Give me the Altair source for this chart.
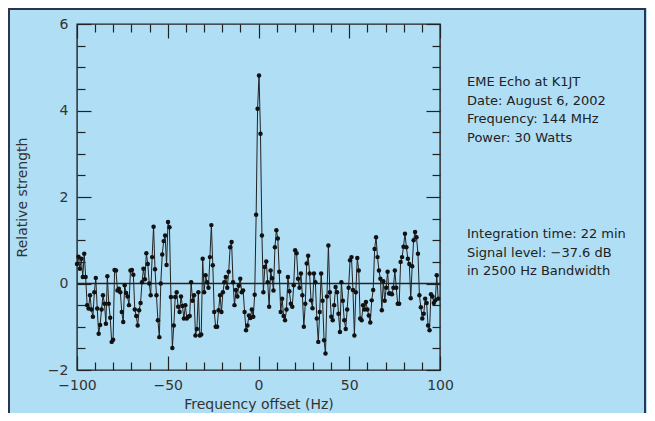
import altair as alt
import pandas as pd

# ---- data ----
freq_start = -100.0   # Hz, first spectral bin
freq_step = 0.796     # Hz between bins

strength_a = [  # -100 .. -61 Hz
    0.45, 0.62, 0.34, 0.57, 0.15, 0.69, 0.15, -0.50, -0.58, -0.27,
    -0.60, -0.77, -0.20, 0.13, -0.58, -1.16, -0.96, -0.60, -0.27, -0.47,
    -0.93, 0.17, -0.47, -0.79, -1.35, -1.30, 0.31, 0.30, -0.16, -0.12,
    -0.20, -0.66, -0.89, -0.04, -0.22, -0.30, -0.50, 0.30, 0.31, 0.20,
    -0.60, -0.75, -0.97, -0.62, -0.45, 0.03, 0.34, 0.10, 0.70, 0.45,
]
strength_b = [  # -60 .. -1 Hz
    0.00, -0.27, 0.61, 1.31, 0.33, -0.27, -0.85, -1.24, 0.00, 0.67,
    0.98, 1.11, 0.43, 1.42, 1.30, -0.31, -1.49, -0.97, -0.31, -0.20,
    -0.54, -0.66, -0.30, -0.52, -0.81, -0.50, -0.81, -0.77, -0.75, 0.03,
    -0.40, -0.27, -1.20, -1.05, -0.20, -1.20, -1.18, 0.57, -0.20, 0.19,
    0.03, -0.10, 0.61, 1.35, 0.42, -0.66, -1.00, -1.00, -0.62, -0.27,
    -0.66, -0.20, 0.03, 0.15, -0.10, 0.27, 0.84, 0.96, 0.03, -0.50,
    -0.15, -0.30, -0.05, 0.11, -0.20, -0.16, -0.66, -1.08, -0.97, -0.74,
    -0.80, -0.60, -0.77, -0.26, 1.59,
]
strength_c = [  # 0 .. 100 Hz
    4.04, 4.81, 3.46, 1.11, -0.20, 0.38, 0.51, 0.03, -0.54, 0.30,
    0.12, -0.16, 0.84, 1.23, 1.04, 0.27, -0.66, -0.35, -0.75, -0.85,
    -0.60, 0.15, -0.18, -0.47, -0.54, -0.04, 0.77, 0.70, 0.11, -0.10,
    0.23, -0.27, -1.00, -0.47, 0.46, 0.64, 0.23, -0.39, -0.57, 0.23,
    0.03, -0.81, -1.35, -0.66, 0.23, -0.40, -1.31, -1.62, -0.30, 0.88,
    -0.20, -0.77, -0.85, -0.50, -0.08, -0.20, -0.70, -1.12, 0.03, -0.40,
    -0.85, -1.05, -0.60, -0.10, 0.54, 0.61, -0.15, -1.20, -0.20, 0.59,
    0.30, -0.81, -0.85, -0.50, -0.60, -0.43, -0.60, -0.74, -0.90, -0.39,
    -0.15, 0.80, 1.07, 0.61, 0.30, 0.11, -0.62, 0.05, -0.40, -0.10,
    0.27, -0.23, -0.23, -0.25, -0.10, 0.30, -0.10, -0.47, -0.47, 0.50,
    0.61, 0.85, 1.15, 0.84, 0.57, 0.45, -0.34, 0.40, 1.00, 1.19,
    1.07, 0.69, -0.27, -0.55, -0.81, -0.70, -0.35, -0.45, -0.97, -1.08,
    -0.25, -0.30, -0.45, -0.39, 0.19, -0.35,
]

x_major = [-100, -50, 0, 50, 100]
x_minor = [-90, -80, -70, -60, -40, -30, -20, -10, 10, 20, 30, 40, 60, 70, 80, 90]
y_major = [-2, 0, 2, 4, 6]
y_minor = [-1.5, -1, -0.5, 0.5, 1, 1.5, 2.5, 3, 3.5, 4.5, 5, 5.5]

info_block_1 = ["EME Echo at K1JT", "Date: August 6, 2002",
                "Frequency: 144 MHz", "Power: 30 Watts"]
info_block_2 = ["Integration time: 22 min", "Signal level: \u221237.6 dB",
                "in 2500 Hz Bandwidth"]

# ---- build table ----
strength = strength_a + strength_b + strength_c
freq = [round(freq_start + freq_step * i, 3) for i in range(len(strength))]
df = pd.DataFrame({"freq": freq, "strength": strength})

FONT = "DejaVu Sans"
INK = "#222222"
TXT = "#333333"
BG = "#b0def4"

xs = alt.Scale(domain=[-100, 100], nice=False, zero=False)
ys = alt.Scale(domain=[-2, 6], nice=False, zero=False)


def ax(orient, values, size, labels=False, title=None, **kw):
    return alt.Axis(orient=orient, values=values, tickSize=size, offset=-size,
                    domain=False, grid=False, labels=labels, title=title,
                    labelFlush=False, labelOverlap=False,
                    tickColor=INK, tickWidth=1.2, labelFont=FONT,
                    labelFontSize=14, labelColor=TXT, titleFont=FONT,
                    titleFontWeight="normal", titleColor=TXT, **kw)


line = alt.Chart(df).mark_line(
    color=INK, strokeWidth=1,
    point=alt.OverlayMarkDef(filled=True, color="#111111", size=20, opacity=1),
).encode(
    x=alt.X("freq:Q", scale=xs,
            axis=ax("bottom", x_major, 14, labels=True,
                    title="Frequency offset (Hz)", labelPadding=8,
                    titlePadding=5, titleFontSize=14)),
    y=alt.Y("strength:Q", scale=ys,
            axis=ax("left", y_major, 14, labels=True,
                    title="Relative strength", labelPadding=9,
                    titlePadding=18, titleFontSize=14)),
)


def ghost(xa, ya):
    return alt.Chart(df).mark_point(opacity=0, size=1).encode(
        x=alt.X("freq:Q", scale=xs, axis=xa),
        y=alt.Y("strength:Q", scale=ys, axis=ya),
    )


minor_bl = ghost(ax("bottom", x_minor, 8), ax("left", y_minor, 8))
major_tr = ghost(ax("top", x_major, 14), ax("right", y_major, 14))
minor_tr = ghost(ax("top", x_minor, 8), ax("right", y_minor, 8))

zero = alt.Chart(pd.DataFrame({"y": [0]})).mark_rule(
    color=INK, strokeWidth=1.4).encode(y=alt.Y("y:Q", scale=ys, axis=None))

one = pd.DataFrame({"a": [0]})
info1 = alt.Chart(one).mark_text(
    text=info_block_1, align="left", baseline="top", font=FONT, fontSize=13,
    lineHeight=18.7, color=INK).encode(x=alt.value(390), y=alt.value(52))
info2 = alt.Chart(one).mark_text(
    text=info_block_2, align="left", baseline="top", font=FONT, fontSize=13,
    lineHeight=18.7, color=INK).encode(x=alt.value(390), y=alt.value(204))

frame = alt.Chart(one).mark_rect(
    fill=None, stroke="#2a3550", strokeWidth=2).encode(
    x=alt.value(-68), x2=alt.value(568), y=alt.value(-15), y2=alt.value(420))

chart = alt.layer(
    frame, zero, minor_bl, major_tr, minor_tr, line, info1, info2
).resolve_axis(x="independent", y="independent").properties(
    width=363, height=346,
    padding={"left": 69, "top": 16, "right": 207, "bottom": 43},
    autosize=alt.AutoSizeParams(type="none"),
    background=BG,
).configure_view(stroke=INK, strokeWidth=1.4)

chart.save("out.html", embed_options={"renderer": "svg", "actions": False})
